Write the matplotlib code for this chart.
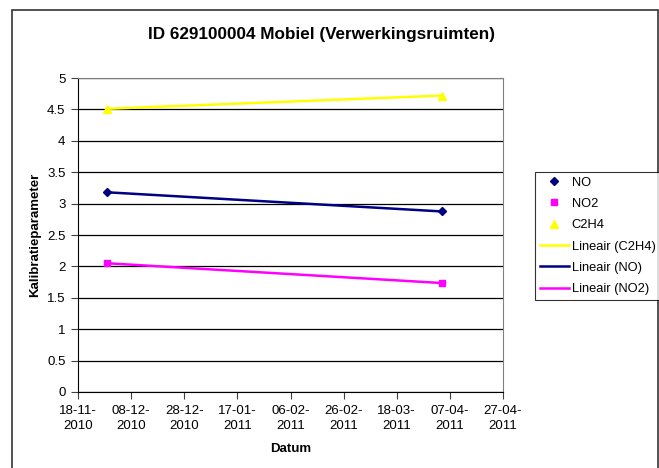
import matplotlib
matplotlib.use("Agg")
import matplotlib.pyplot as plt
import datetime
from matplotlib.patches import Rectangle

plt.rcParams['font.family'] = ['Liberation Sans', 'DejaVu Sans']

# meetdata
datums = [datetime.date(2010, 11, 29), datetime.date(2011, 4, 4)]
no_waarden = [3.18, 2.875]
no2_waarden = [2.05, 1.735]
c2h4_waarden = [4.51, 4.72]

tick_start = datetime.date(2010, 11, 18)
tick_labels = ["18-11-\n2010", "08-12-\n2010", "28-12-\n2010", "17-01-\n2011", "06-02-\n2011",
               "26-02-\n2011", "18-03-\n2011", "07-04-\n2011", "27-04-\n2011"]
ticks = [tick_start + datetime.timedelta(days=20 * i) for i in range(len(tick_labels))]
y_ticks = [0, 0.5, 1, 1.5, 2, 2.5, 3, 3.5, 4, 4.5, 5]

W, H = 659, 468
fig = plt.figure(figsize=(W / 100, H / 100), dpi=100)
ax = fig.add_axes([78 / W, 1 - 392 / H, (503 - 78) / W, (392 - 78) / H])

# buitenrand van de grafiek (onderkant valt buiten beeld)
fig.patches.append(Rectangle((12 / W, -0.1), (658 - 12) / W, 1.1 - 10 / H, transform=fig.transFigure,
                             fill=False, edgecolor="#333333", linewidth=1.2, clip_on=False))

ax.plot(datums, no_waarden, linestyle="none", marker="D", markersize=4, color="#000080", label="NO")
ax.plot(datums, no2_waarden, linestyle="none", marker="s", markersize=5, color="#FF00FF", label="NO2")
ax.plot(datums, c2h4_waarden, linestyle="none", marker="^", markersize=6, color="#FFFF00", label="C2H4")
ax.plot(datums, c2h4_waarden, color="#FFFF00", linewidth=1.8, label="Lineair (C2H4)")
ax.plot(datums, no_waarden, color="#000080", linewidth=1.8, label="Lineair (NO)")
ax.plot(datums, no2_waarden, color="#FF00FF", linewidth=1.8, label="Lineair (NO2)")

ax.set_xlim(ticks[0], ticks[-1])
ax.set_ylim(0, 5)
ax.set_xticks(ticks)
ax.set_xticklabels(tick_labels, fontsize=9.5, linespacing=1.4)
ax.set_yticks(y_ticks)
ax.set_yticklabels([f"{v:g}" for v in y_ticks], fontsize=9.5)
ax.tick_params(axis="both", direction="out", length=5, width=0.8, color="#404040", pad=4)
ax.grid(True, axis="y", color="black", linewidth=0.9)
ax.set_axisbelow(True)
for kant in ["top", "right"]:
    ax.spines[kant].set_color("#808080")
for kant in ["left", "bottom"]:
    ax.spines[kant].set_color("black")

ax.set_xlabel("Datum", fontsize=9.5, fontweight="bold", labelpad=8)
ax.set_ylabel("Kalibratieparameter", fontsize=9.5, fontweight="bold", labelpad=4)
fig.text(322 / W, 1 - 34 / H, "ID 629100004 Mobiel (Verwerkingsruimten)", fontsize=12.3,
         fontweight="bold", ha="center", va="center")

leg = fig.legend(loc="upper left", bbox_to_anchor=(535 / W, 1 - 172 / H), fontsize=9.3,
                 frameon=True, fancybox=False, edgecolor="black", handlelength=2.3,
                 handletextpad=0.2, borderpad=0.35, borderaxespad=0, labelspacing=0.72)
leg.get_frame().set_linewidth(0.8)
leg._legend_box.sep = 0

fig.savefig("out.png", dpi=100)
